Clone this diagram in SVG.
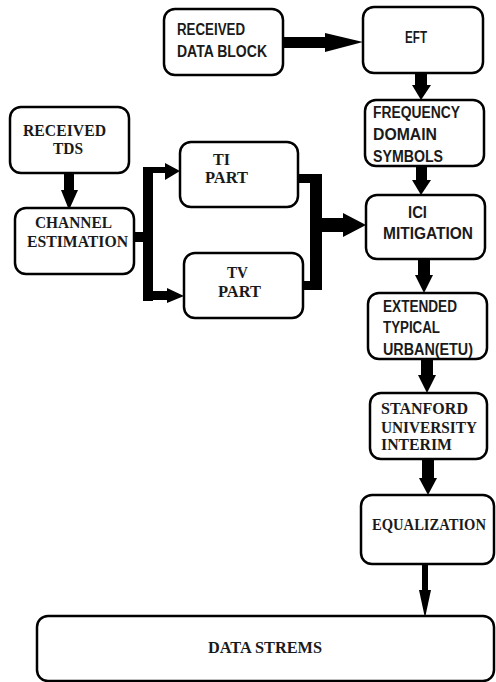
<svg xmlns="http://www.w3.org/2000/svg" width="496" height="682" viewBox="0 0 496 682">
<style>
.box{fill:#fff;stroke:#000;stroke-width:2.5}
.s{font-family:"Liberation Sans",Arial,sans-serif;font-weight:bold;font-size:16px;fill:#1a1a1a}
.t{font-family:"Liberation Serif","Times New Roman",serif;font-weight:bold;font-size:16px;fill:#1a1a1a}
.c{fill:#000;stroke:none}
</style>
<rect width="496" height="682" fill="#fff"/>
<g id="connectors">
<rect class="c" x="283" y="37" width="44" height="11"/>
<polygon class="c" points="325,33 363,42 325,52"/>
<rect class="c" x="415" y="72" width="12" height="14"/>
<polygon class="c" points="412,85 431,85 421,100"/>
<rect class="c" x="416" y="166" width="11" height="15"/>
<polygon class="c" points="412,180 431,180 421,195"/>
<rect class="c" x="418" y="259" width="12" height="17"/>
<polygon class="c" points="415,275 433,275 424,293"/>
<rect class="c" x="421" y="359" width="12" height="17"/>
<polygon class="c" points="418,375 436,375 427,393"/>
<rect class="c" x="422" y="459" width="12" height="20"/>
<polygon class="c" points="419,478 437,478 428,495"/>
<rect class="c" x="422" y="564" width="6" height="27"/>
<polygon class="c" points="419,590 431,590 425,618"/>
<rect class="c" x="64" y="173" width="10" height="18"/>
<polygon class="c" points="61,190 78,190 69,210"/>
<rect class="c" x="134" y="232" width="14" height="10"/>
<rect class="c" x="143" y="167" width="10" height="134"/>
<rect class="c" x="143" y="167" width="24" height="6"/>
<polygon class="c" points="165,163 180,171 165,180"/>
<rect class="c" x="143" y="291" width="26" height="9"/>
<polygon class="c" points="167,288 184,296 167,303"/>
<rect class="c" x="298" y="174" width="24" height="9"/>
<rect class="c" x="303" y="281" width="19" height="9"/>
<rect class="c" x="310" y="174" width="12" height="116"/>
<rect class="c" x="310" y="218" width="35" height="14"/>
<polygon class="c" points="343,213 366,225 343,237"/>
</g>
<g id="received-data-block"><rect class="box" x="164" y="9" width="119" height="66" rx="11"/><text class="s" x="177" y="35" textLength="68" lengthAdjust="spacingAndGlyphs">RECEIVED</text><text class="s" x="177" y="57" textLength="90" lengthAdjust="spacingAndGlyphs">DATA BLOCK</text></g>
<g id="eft"><rect class="box" x="363" y="7" width="120" height="66" rx="11"/><text class="s" x="405" y="43" textLength="22" lengthAdjust="spacingAndGlyphs">EFT</text></g>
<g id="frequency-domain-symbols"><rect class="box" x="365" y="100" width="119" height="66" rx="11"/><text class="s" x="373" y="118" textLength="87" lengthAdjust="spacingAndGlyphs">FREQUENCY</text><text class="s" x="373" y="140" textLength="64" lengthAdjust="spacingAndGlyphs">DOMAIN</text><text class="s" x="373" y="162" textLength="70" lengthAdjust="spacingAndGlyphs">SYMBOLS</text></g>
<g id="ici-mitigation"><rect class="box" x="366" y="195" width="119" height="64" rx="11"/><text class="s" x="408" y="218" textLength="19" lengthAdjust="spacingAndGlyphs">ICI</text><text class="s" x="383" y="239" textLength="90" lengthAdjust="spacingAndGlyphs">MITIGATION</text></g>
<g id="etu"><rect class="box" x="368" y="293" width="119" height="66" rx="11"/><text class="s" x="383" y="312" textLength="74" lengthAdjust="spacingAndGlyphs">EXTENDED</text><text class="s" x="383" y="333" textLength="57" lengthAdjust="spacingAndGlyphs">TYPICAL</text><text class="s" x="383" y="355" textLength="90" lengthAdjust="spacingAndGlyphs">URBAN(ETU)</text></g>
<g id="stanford"><rect class="box" x="370" y="393" width="117" height="66" rx="11"/><text class="t" x="381" y="414" textLength="87" lengthAdjust="spacingAndGlyphs">STANFORD</text><text class="t" x="381" y="433" textLength="96" lengthAdjust="spacingAndGlyphs">UNIVERSITY</text><text class="t" x="381" y="450" textLength="71" lengthAdjust="spacingAndGlyphs">INTERIM</text></g>
<g id="equalization"><rect class="box" x="361" y="495" width="133" height="69" rx="11"/><text class="t" x="372" y="530" textLength="114" lengthAdjust="spacingAndGlyphs">EQUALIZATION</text></g>
<g id="data-streams"><rect class="box" x="37" y="616" width="457" height="65" rx="11"/><text class="t" x="208" y="653" textLength="114" lengthAdjust="spacingAndGlyphs">DATA STREMS</text></g>
<g id="received-tds"><rect class="box" x="10" y="107" width="119" height="66" rx="11"/><text class="t" x="23" y="136" textLength="83" lengthAdjust="spacingAndGlyphs">RECEIVED</text><text class="t" x="53" y="154" textLength="30" lengthAdjust="spacingAndGlyphs">TDS</text></g>
<g id="channel-estimation"><rect class="box" x="15" y="208" width="119" height="66" rx="11"/><text class="t" x="35" y="228" textLength="77" lengthAdjust="spacingAndGlyphs">CHANNEL</text><text class="t" x="27" y="247" textLength="101" lengthAdjust="spacingAndGlyphs">ESTIMATION</text></g>
<g id="ti-part"><rect class="box" x="180" y="142" width="118" height="65" rx="11"/><text class="t" x="213" y="165" textLength="17" lengthAdjust="spacingAndGlyphs">TI</text><text class="t" x="205" y="183" textLength="43" lengthAdjust="spacingAndGlyphs">PART</text></g>
<g id="tv-part"><rect class="box" x="184" y="253" width="119" height="65" rx="11"/><text class="t" x="227" y="278" textLength="21" lengthAdjust="spacingAndGlyphs">TV</text><text class="t" x="218" y="297" textLength="43" lengthAdjust="spacingAndGlyphs">PART</text></g>
</svg>
